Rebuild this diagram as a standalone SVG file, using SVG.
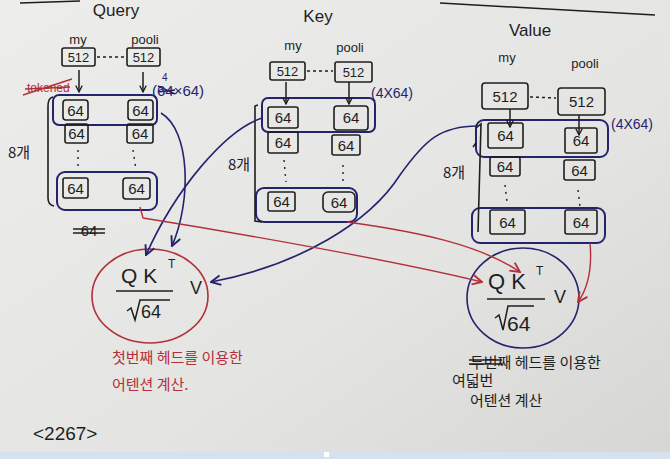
<svg xmlns="http://www.w3.org/2000/svg" width="670" height="459" viewBox="0 0 670 459">
<defs>
<linearGradient id="bg" x1="0" y1="0" x2="1" y2="1">
<stop offset="0" stop-color="#ededec"/>
<stop offset="0.6" stop-color="#e4e4e2"/>
<stop offset="1" stop-color="#d6d6d4"/>
</linearGradient>
<marker id="ak" viewBox="0 0 10 10" refX="9" refY="5" markerWidth="8" markerHeight="8" orient="auto-start-reverse" markerUnits="userSpaceOnUse"><path d="M1,1 L9,5 L1,9" fill="none" stroke="#1e1e1e" stroke-width="1.6"/></marker>
<marker id="ab" viewBox="0 0 10 10" refX="9" refY="5" markerWidth="12" markerHeight="12" orient="auto-start-reverse" markerUnits="userSpaceOnUse"><path d="M1,1 L9,5 L1,9" fill="none" stroke="#24246e" stroke-width="1.6"/></marker>
<marker id="ar" viewBox="0 0 10 10" refX="9" refY="5" markerWidth="12" markerHeight="12" orient="auto-start-reverse" markerUnits="userSpaceOnUse"><path d="M1,1 L9,5 L1,9" fill="none" stroke="#b3303a" stroke-width="1.6"/></marker>
</defs>
<style>
.box{fill:none;stroke:#1e1e1e;stroke-width:1.6}
.grp{fill:none;stroke:#24246e;stroke-width:2}
.brk{fill:none;stroke:#1e1e1e;stroke-width:1.6}
.dot{fill:none;stroke:#1e1e1e;stroke-width:1.4;stroke-dasharray:2 5}
.t{font-family:"Liberation Sans","Noto Sans CJK KR",sans-serif;fill:#1e1e1e}
.n{font-size:15px;text-anchor:middle}
.s{font-size:13px;text-anchor:middle}
.lab{font-size:13px;text-anchor:middle}
.ttl{font-size:17px;text-anchor:middle}
.kr{font-family:"Noto Sans CJK KR","Liberation Sans",sans-serif;font-size:15px}
.blue{fill:#24246e}
.red{fill:#b3303a}
.cb{fill:none;stroke:#24246e;stroke-width:1.6}
.cr{fill:none;stroke:#b3303a;stroke-width:1.4}
.ck{fill:none;stroke:#1e1e1e;stroke-width:1.5}
</style>
<rect x="0" y="0" width="670" height="459" fill="url(#bg)"/>
<rect x="0" y="452" width="670" height="7" fill="#d5e1ec"/>
<rect x="324" y="452" width="5" height="5" fill="#ffffff"/>
<path d="M20,3 L80,1 M440,3 L655,15" class="ck" stroke-width="2"/>

<g id="query">
<text class="t ttl" x="116" y="16">Query</text>
<text class="t lab" x="78" y="44">my</text>
<text class="t lab" x="145" y="44">pooli</text>
<rect class="box" x="62" y="48" width="33" height="18" rx="2"/>
<text class="t s" x="78.5" y="62">512</text>
<rect class="box" x="127" y="48" width="33" height="18" rx="2"/>
<text class="t s" x="143.5" y="62">512</text>
<text class="t red" x="27" y="92" font-size="12">tokened</text>
<path d="M23,95 L72,79 M25,89 L70,87" class="cr"/>
<text class="t blue" x="152" y="96" font-size="15">(64×64)</text>
<path d="M158,86 L175,94 M158,92 L175,90" class="cb"/>
<text class="t blue" x="162" y="81" font-size="10">4</text>
<rect class="grp" x="53" y="95" width="104" height="30" rx="6"/>
<rect class="box" x="63" y="100" width="25" height="20" rx="3"/>
<text class="t n" x="75.5" y="116">64</text>
<rect class="box" x="128" y="100" width="25" height="20" rx="3"/>
<text class="t n" x="140.5" y="116">64</text>
<rect class="box" x="65" y="124" width="23" height="19" rx="2"/>
<text class="t n" x="76.5" y="139">64</text>
<rect class="box" x="127" y="124" width="26" height="19" rx="2"/>
<text class="t n" x="140" y="139">64</text>
<path class="dot" d="M78,150 L78,170 M133,150 L136,170"/>
<rect class="grp" x="57" y="172" width="100" height="38" rx="8"/>
<rect class="box" x="63" y="178" width="25" height="20" rx="2"/>
<text class="t n" x="75.5" y="194">64</text>
<rect class="box" x="123" y="178" width="27" height="21" rx="3"/>
<text class="t n" x="136.5" y="194">64</text>
<path class="brk" d="M53,97 Q48,98 48,106 L48,198 Q48,205 54,206"/>
<text class="kr t" x="8" y="158">8개</text>
<text class="t n" x="89" y="236">64</text>
<path class="ck" d="M73,229 L105,229 M73,233 L105,233"/>
</g>

<g id="key">
<text class="t ttl" x="318" y="22">Key</text>
<text class="t lab" x="293" y="50" font-size="15">my</text>
<text class="t lab" x="350" y="52">pooli</text>
<rect class="box" x="270" y="62" width="35" height="18" rx="2"/>
<text class="t s" x="287.5" y="76">512</text>
<rect class="box" x="335" y="62" width="37" height="20" rx="2"/>
<text class="t s" x="353.5" y="77">512</text>
<text class="t blue" x="371" y="98" font-size="14">(4X64)</text>
<rect class="grp" x="262" y="98" width="113" height="34" rx="6"/>
<rect class="box" x="268" y="107" width="30" height="21" rx="2"/>
<text class="t n" x="283" y="123">64</text>
<rect class="box" x="334" y="106" width="34" height="24" rx="3"/>
<text class="t n" x="351" y="123">64</text>
<rect class="box" x="268" y="132" width="30" height="21" rx="2"/>
<text class="t n" x="283" y="148">64</text>
<rect class="box" x="332" y="135" width="28" height="20" rx="2"/>
<text class="t n" x="346" y="151">64</text>
<path class="dot" d="M284,160 L286,182 M343,165 L343,182"/>
<rect class="grp" x="256" y="188" width="101" height="34" rx="8"/>
<rect class="box" x="268" y="192" width="27" height="19" rx="2"/>
<text class="t n" x="281.5" y="207">64</text>
<rect class="box" x="323" y="192" width="32" height="20" rx="5"/>
<text class="t n" x="339" y="208">64</text>
<path class="brk" d="M258,105 L255,106 L255,221 L262,222"/>
<text class="kr t" x="228" y="170" font-size="13">8개</text>
</g>

<g id="value">
<text class="t ttl" x="530" y="36">Value</text>
<text class="t lab" x="507" y="62" font-size="15">my</text>
<text class="t lab" x="585" y="68">pooli</text>
<rect class="box" x="482" y="83" width="46" height="26" rx="3"/>
<text class="t n" x="505" y="102">512</text>
<rect class="box" x="558" y="88" width="47" height="27" rx="3"/>
<text class="t n" x="581.5" y="107">512</text>
<text class="t blue" x="611" y="129" font-size="14">(4X64)</text>
<rect class="grp" x="476" y="120" width="132" height="37" rx="8"/>
<rect class="box" x="488" y="123" width="35" height="25" rx="2"/>
<text class="t n" x="505.5" y="141">64</text>
<rect class="box" x="565" y="128" width="32" height="25" rx="2"/>
<text class="t n" x="581" y="146">64</text>
<rect class="box" x="490" y="157" width="30" height="19" rx="2"/>
<text class="t n" x="505" y="172">64</text>
<rect class="box" x="564" y="160" width="31" height="20" rx="2"/>
<text class="t n" x="579.5" y="176">64</text>
<path class="dot" d="M505,185 L507,202 M578,190 L580,207"/>
<rect class="grp" x="472" y="208" width="133" height="35" rx="8"/>
<rect class="box" x="490" y="210" width="35" height="24" rx="2"/>
<text class="t n" x="507.5" y="228">64</text>
<rect class="box" x="565" y="210" width="32" height="24" rx="2"/>
<text class="t n" x="581" y="228">64</text>
<path class="brk" d="M476,128 L481,124 L478,232 M473,147 L476,143"/>
<text class="kr t" x="443" y="178">8개</text>
</g>

<g id="attn1">
<ellipse cx="150" cy="296" rx="58" ry="47" fill="none" stroke="#b3303a" stroke-width="1.6"/>
<text class="t" x="121" y="283" font-size="21">Q K</text>
<text class="t" x="168" y="268" font-size="12">T</text>
<path d="M116,291 L173,291" class="ck" stroke-width="2"/>
<path d="M127,311 L131,308 L135,320 L140,300 L170,300" class="ck"/>
<text class="t" x="141" y="318" font-size="18">64</text>
<text class="t" x="190" y="294" font-size="18">V</text>
<text class="kr red" x="112" y="363">첫번째 헤드를 이용한</text>
<text class="kr red" x="112" y="390">어텐션 계산.</text>
</g>

<g id="attn2">
<ellipse cx="523" cy="298" rx="56" ry="50" fill="none" stroke="#24246e" stroke-width="1.6"/>
<text class="t" x="488" y="289" font-size="22">Q K</text>
<text class="t" x="536" y="275" font-size="12">T</text>
<path d="M487,299 L545,299" class="ck" stroke-width="2"/>
<path d="M495,318 L499,315 L503,330 L508,306 L534,306" class="ck"/>
<text class="t" x="507" y="331" font-size="21">64</text>
<text class="t" x="554" y="303" font-size="18">V</text>
<text class="kr t" x="470" y="368">두번째 헤드를 이용한</text>
<path class="ck" d="M469,360 L502,360 M469,364 L502,364"/>
<text class="kr t" x="452" y="386" font-size="12">여덟번</text>
<text class="kr t" x="470" y="406">어텐션 계산</text>
</g>

<text class="t" x="33" y="440" font-size="19" id="pagenum">&lt;2267&gt;</text>

<g id="connectors">
<path class="ck" d="M97,57 L125,57" stroke-dasharray="3 3"/>
<path class="ck" d="M307,71 L333,71" stroke-dasharray="3 3"/>
<path class="ck" d="M530,97 L556,98" stroke-dasharray="3 3"/>
<path class="ck" d="M79,70 L79,92" marker-end="url(#ak)"/>
<path class="ck" d="M143,72 L143,92" marker-end="url(#ak)"/>
<path class="ck" d="M286,82 L286,104" marker-end="url(#ak)"/>
<path class="ck" d="M349,82 L349,104" marker-end="url(#ak)"/>
<path class="ck" d="M510,109 L510,127" marker-end="url(#ak)"/>
<path class="ck" d="M579,115 L579,135" marker-end="url(#ak)"/>
<path class="cb" d="M161,113 C190,130 192,200 172,246" marker-end="url(#ab)"/>
<path class="cb" d="M262,118 C225,130 175,190 146,255" marker-end="url(#ab)"/>
<path class="cb" d="M478,126 C440,126 425,140 400,175 C370,222 300,265 211,282" marker-end="url(#ab)"/>
<path class="cr" d="M140,207 L143,218 C250,235 400,262 482,282" marker-end="url(#ar)"/>
<path class="cr" d="M347,222 C420,232 480,245 520,272" marker-end="url(#ar)"/>
<path class="cr" d="M590,243 C592,265 590,285 578,302" marker-end="url(#ar)"/>
</g>
</svg>
